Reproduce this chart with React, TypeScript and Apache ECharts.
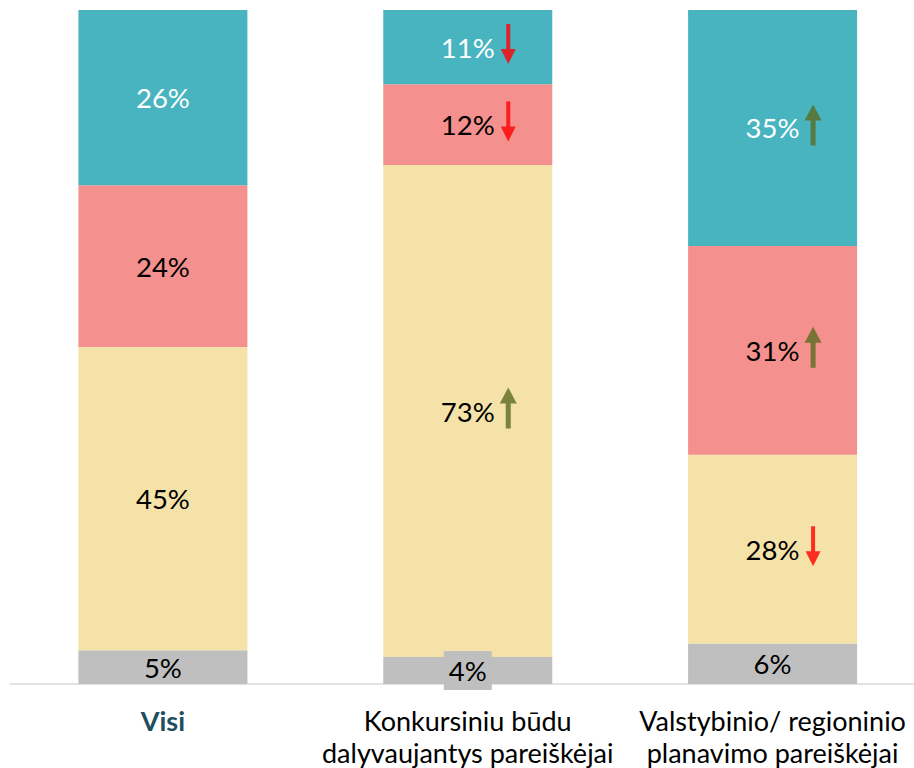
import React, { useEffect, useRef } from "react";
import * as echarts from "echarts";

const categories = ["Visi", "Konkursiniu būdu\ndalyvaujantys pareiškėjai", "Valstybinio/ regioninio\nplanavimo pareiškėjai"];
const grayValues = [5, 4, 6];
const yellowValues = [45, 73, 28];
const redValues = [24, 12, 31];
const tealValues = [26, 11, 35];
// trend arrows per segment: "up", "down" or ""
const grayTrend = ["", "", ""];
const yellowTrend = ["", "up", "down"];
const redTrend = ["", "down", "up"];
const tealTrend = ["", "down", "up"];

const FONT = "Lato";
const UP_PATH = "path://M8.5,0 L17,16 L11,16 L11,41 L6,41 L6,16 L0,16 Z";
const DOWN_PATH = "path://M5.5,0 L9.5,0 L9.5,25 L15,25 L7.5,40 L0,25 L5.5,25 Z";

export default function App() {
  const ref = useRef<HTMLDivElement>(null);
  useEffect(() => {
    if (!ref.current) return;
    const chart = echarts.init(ref.current, null, { renderer: "svg" });
    const stacks = [
      { name: "gray", values: grayValues, trend: grayTrend, color: "#BFBFBF", text: "#000000" },
      { name: "yellow", values: yellowValues, trend: yellowTrend, color: "#F5E2A8", text: "#000000" },
      { name: "red", values: redValues, trend: redTrend, color: "#F4908D", text: "#000000" },
      { name: "teal", values: tealValues, trend: tealTrend, color: "#48B4C0", text: "#FFFFFF" },
    ];
    const ups: number[][] = [];
    const downs: number[][] = [];
    const cum = categories.map(() => 0);
    stacks.forEach((s) => {
      s.values.forEach((v, i) => {
        const mid = cum[i] + v / 2;
        if (s.trend[i] === "up") ups.push([i, mid]);
        if (s.trend[i] === "down") downs.push([i, mid]);
        cum[i] += v;
      });
    });
    const barSeries = stacks.map((s) => ({
      type: "bar",
      name: s.name,
      stack: "total",
      barWidth: 169,
      itemStyle: { color: s.color },
      label: {
        show: true,
        position: "inside",
        color: s.text,
        fontFamily: FONT,
        fontSize: 27.5,
        lineHeight: 30,
        formatter: "{c}%",
      },
      data: s.values.map((v, i) =>
        s.name === "gray" && i === 1
          ? { value: v, label: { backgroundColor: "#BFBFBF", padding: [5, 5, 4, 5] } }
          : v
      ),
    }));
    chart.setOption({
      animation: false,
      grid: {
        left: 10.5,
        top: 10,
        width: 914.5,
        height: 674,
        containLabel: false,
        outerBoundsMode: "none",
      },
      xAxis: {
        type: "category",
        data: categories.map((c, i) =>
          i === 0 ? { value: c, textStyle: { fontWeight: "bold", color: "#1F4E5E" } } : c
        ),
        axisLine: { show: true, lineStyle: { color: "#D9D9D9", width: 1.5 } },
        axisTick: { show: false },
        axisLabel: {
          color: "#000000",
          fontFamily: FONT,
          fontSize: 27,
          lineHeight: 32,
          margin: 20,
          interval: 0,
          hideOverlap: false,
        },
      },
      yAxis: {
        type: "value",
        min: 0,
        max: 100,
        show: false,
      },
      series: [
        ...barSeries,
        {
          type: "scatter",
          data: ups,
          symbol: UP_PATH,
          symbolSize: [17, 41],
          symbolOffset: [40.5, -3],
          itemStyle: { color: "#5A6B1F" },
          z: 10,
        },
        {
          type: "scatter",
          data: downs,
          symbol: DOWN_PATH,
          symbolSize: [15, 40],
          symbolOffset: [40.5, -3],
          itemStyle: { color: "#FF0000" },
          z: 10,
        },
      ],
    });
    return () => chart.dispose();
  }, []);
  return (
    <div
      ref={ref}
      style={{ position: "fixed", left: 0, top: 0, width: 914, height: 768, background: "#FFFFFF" }}
    />
  );
}
